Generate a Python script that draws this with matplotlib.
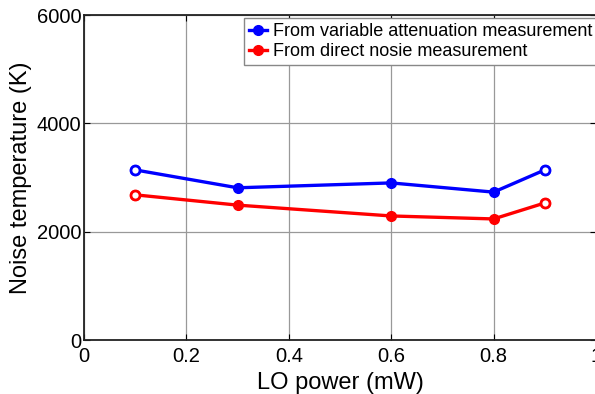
import matplotlib
matplotlib.use('Agg')
import matplotlib.pyplot as plt

lo_power = [0.1, 0.3, 0.6, 0.8, 0.9]
t_variable_atten = [3140, 2810, 2900, 2730, 3140]
t_direct_noise = [2680, 2490, 2290, 2235, 2530]

plt.rcParams['font.family'] = ['Liberation Sans', 'DejaVu Sans']

fig = plt.figure(figsize=(5.95, 3.94), dpi=100)
ax = fig.add_axes([84/595, 1 - 340/394, 512/595, 325/394])

for y, c, lab in [(t_variable_atten, 'blue', 'From variable attenuation measurement'),
                  (t_direct_noise, 'red', 'From direct nosie measurement')]:
    ax.plot(lo_power, y, '-o', color=c, lw=2.4, ms=7, label=lab, zorder=3)
    # end points drawn open
    ax.plot([lo_power[0], lo_power[-1]], [y[0], y[-1]], 'o', color=c, mfc='white',
            mew=2, ms=6.5, zorder=4)

ax.set_xlim(0, 1)
ax.set_ylim(0, 6000)
ax.set_xticks([0, 0.2, 0.4, 0.6, 0.8, 1])
ax.set_xticklabels(['0', '0.2', '0.4', '0.6', '0.8', '1'])
ax.set_yticks([0, 2000, 4000, 6000])
ax.grid(True, color='#999999', lw=0.9)
ax.tick_params(direction='in', top=True, right=True, labelsize=14.5, length=4, pad=2)
ax.tick_params(axis='x', pad=5)
for s in ax.spines.values():
    s.set_linewidth(1.3)
    s.set_color('#222222')

ax.set_xlabel('LO power (mW)', fontsize=17, labelpad=4)
ax.set_ylabel('Noise temperature (K)', fontsize=17, labelpad=3)

leg = ax.legend(loc='upper left', bbox_to_anchor=(157/512, 1.0), fontsize=13,
                handlelength=1.0, handletextpad=0.3, borderpad=0.3, labelspacing=0.15,
                fancybox=False, framealpha=1, edgecolor='#888888', borderaxespad=0.15)

fig.savefig('out.png', dpi=100)
